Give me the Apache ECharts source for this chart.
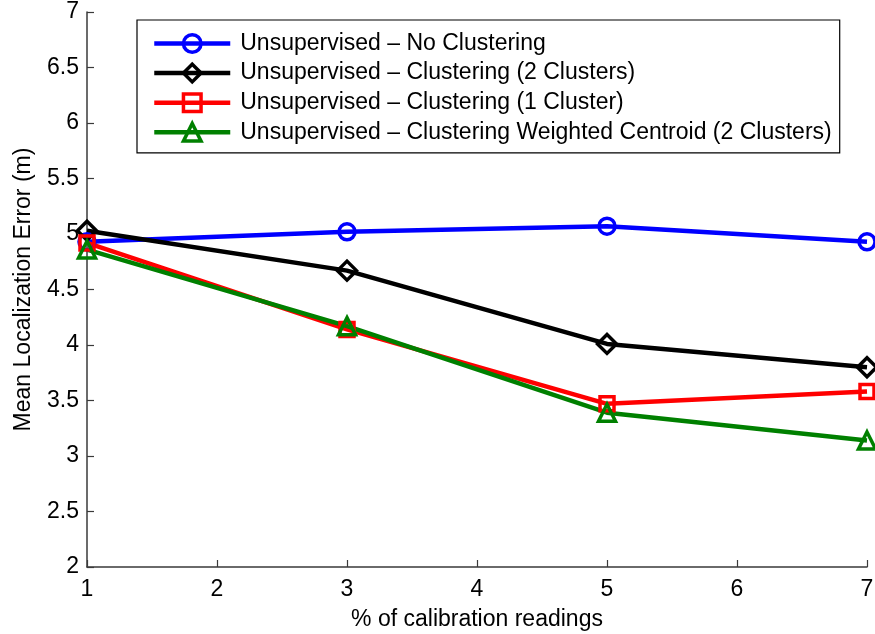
<!DOCTYPE html>
<html>
<head>
<meta charset="utf-8">
<script src="https://cdn.jsdelivr.net/npm/echarts@6/dist/echarts.min.js"></script>
<style>
  html, body { margin: 0; padding: 0; background: #fff; }
  #chart { width: 875px; height: 634px; }
</style>
</head>
<body>
<div id="chart"></div>
<script>
// Percentage of calibration readings used
const calibration = [1, 3, 5, 7];

// Mean localization error (m) per method
const noClustering = [4.93, 5.02, 5.07, 4.93];
const clustering2 = [5.03, 4.67, 4.01, 3.80];
const clustering1 = [4.92, 4.14, 3.47, 3.58];
const weighted2 = [4.86, 4.17, 3.39, 3.14];

const seriesNames = [
  'Unsupervised \u2013 No Clustering',
  'Unsupervised \u2013 Clustering (2 Clusters)',
  'Unsupervised \u2013 Clustering (1 Cluster)',
  'Unsupervised \u2013 Clustering Weighted Centroid (2 Clusters)'
];

const FONT = 'Liberation Sans, Arial, sans-serif';
const FONT_SIZE = 23;
const AXIS_COLOR = '#3a3a3a';

function pairs(ys) {
  return calibration.map((x, i) => [x, ys[i]]);
}

function makeSeries(name, ys, color, symbol, size) {
  return {
    name: name,
    type: 'line',
    data: pairs(ys),
    symbol: symbol,
    symbolSize: size,
    showAllSymbol: true,
    color: color,
    lineStyle: { color: color, width: 4.5 },
    itemStyle: { color: 'rgba(255,255,255,0)', borderColor: color, borderWidth: 3.5 },
    emphasis: { disabled: true },
    z: 2
  };
}

const chart = echarts.init(document.getElementById('chart'), null, { renderer: 'canvas' });

chart.setOption({
  animation: false,
  backgroundColor: '#fff',
  textStyle: { fontFamily: FONT },
  grid: { left: 87, right: 8, top: 12, bottom: 67, containLabel: false, outerBoundsMode: 'none' },
  legend: {
    orient: 'vertical',
    left: 137,
    top: 20,
    padding: [12, 8, 9, 15],
    itemGap: 6.6,
    itemWidth: 76,
    itemHeight: 22,
    borderColor: '#000',
    borderWidth: 1.2,
    backgroundColor: '#fff',
    lineStyle: { width: 4.5 },
    itemStyle: { borderWidth: 3.5 },
    textStyle: { fontFamily: FONT, fontSize: FONT_SIZE, color: '#000', padding: [0, 0, 0, 5] },
    data: seriesNames
  },
  xAxis: {
    type: 'value',
    min: 1,
    max: 7,
    interval: 1,
    name: '% of calibration readings',
    nameLocation: 'middle',
    nameGap: 41,
    nameTextStyle: { fontFamily: FONT, fontSize: FONT_SIZE, color: '#000' },
    axisLine: { show: true, lineStyle: { color: AXIS_COLOR, width: 1.5 } },
    axisTick: { show: true, inside: true, length: 7, lineStyle: { color: AXIS_COLOR, width: 1.2 } },
    axisLabel: { fontFamily: FONT, fontSize: FONT_SIZE, color: '#000', margin: 11 },
    splitLine: { show: false }
  },
  yAxis: {
    type: 'value',
    min: 2,
    max: 7,
    interval: 0.5,
    name: 'Mean Localization Error (m)',
    nameLocation: 'middle',
    nameGap: 52,
    nameRotate: 90,
    nameTextStyle: { fontFamily: FONT, fontSize: FONT_SIZE, color: '#000' },
    axisLine: { show: true, lineStyle: { color: AXIS_COLOR, width: 1.5 } },
    axisTick: { show: true, inside: true, length: 7, lineStyle: { color: AXIS_COLOR, width: 1.2 } },
    axisLabel: { fontFamily: FONT, fontSize: FONT_SIZE, color: '#000', margin: 8 },
    splitLine: { show: false }
  },
  series: [
    makeSeries(seriesNames[0], noClustering, '#0000ff', 'circle', 16),
    makeSeries(seriesNames[1], clustering2, '#000000', 'diamond', 19),
    makeSeries(seriesNames[2], clustering1, '#ff0000', 'rect', 14),
    makeSeries(seriesNames[3], weighted2, '#008000', 'triangle', 17)
  ]
});
</script>
</body>
</html>
